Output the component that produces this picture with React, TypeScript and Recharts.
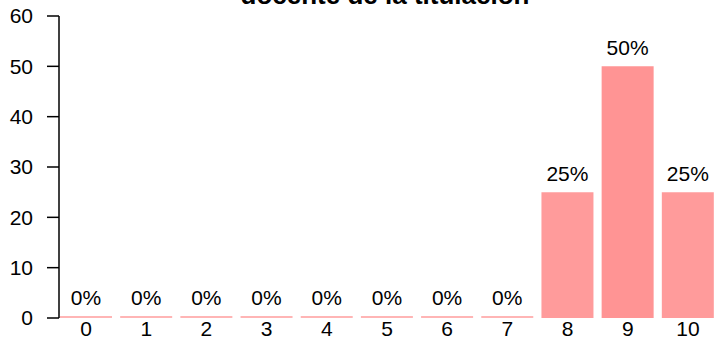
import { BarChart, Bar, XAxis, YAxis, LabelList, Cell } from 'recharts'

// Score distribution (percent of answers per score)
const SCORES = ['0', '1', '2', '3', '4', '5', '6', '7', '8', '9', '10']
const PERCENTS = [0, 0, 0, 0, 0, 0, 0, 0, 25, 50, 25]
const Y_TICKS = [0, 10, 20, 30, 40, 50, 60]
const TITLE = 'docente de la titulación'

const data = SCORES.map((s, i) => ({ score: s, pct: PERCENTS[i] }))

const FONT = 'Liberation Sans, Arial, sans-serif'

function barColor(v: number) {
  if (v === 0) return '#ffb5b5'
  if (v >= 50) return '#ff9494'
  return '#ff9b9b'
}

export default function App() {
  return (
    <div style={{ position: 'fixed', left: 0, top: 0, width: 722, height: 339, background: '#fff' }}>
      <BarChart
        width={722}
        height={339}
        data={data}
        margin={{ top: 16, right: 4, left: 0, bottom: 0 }}
        barCategoryGap={4}
      >
        <XAxis
          dataKey="score"
          axisLine={false}
          tickLine={false}
          tickSize={0}
          tickMargin={3}
          height={21}
          padding={{ left: -3, right: 0 }}
          interval={0}
          tick={{ fontSize: 21, fill: '#000', fontFamily: FONT }}
        />
        <YAxis
          domain={[0, 60]}
          ticks={Y_TICKS}
          width={59}
          axisLine={{ stroke: '#000', strokeWidth: 1.5 }}
          tickLine={{ stroke: '#000', strokeWidth: 1.5 }}
          tickSize={12}
          tickMargin={14}
          tick={{ fontSize: 21, fill: '#000', fontFamily: FONT }}
        />
        <Bar dataKey="pct" minPointSize={2} isAnimationActive={false}>
          {data.map((d, i) => (
            <Cell key={i} fill={barColor(d.pct)} />
          ))}
          <LabelList
            dataKey="pct"
            position="top"
            offset={11}
            formatter={(v: number) => `${v}%`}
            style={{ fontSize: 21, fill: '#000', fontFamily: FONT }}
          />
        </Bar>
      </BarChart>
      <svg width={722} height={339} style={{ position: 'absolute', left: 0, top: 0, pointerEvents: 'none' }}>
        <text x={385} y={4} textAnchor="middle" fontSize={26} fontWeight="bold" fontFamily={FONT} fill="#000">
          {TITLE}
        </text>
      </svg>
    </div>
  )
}
